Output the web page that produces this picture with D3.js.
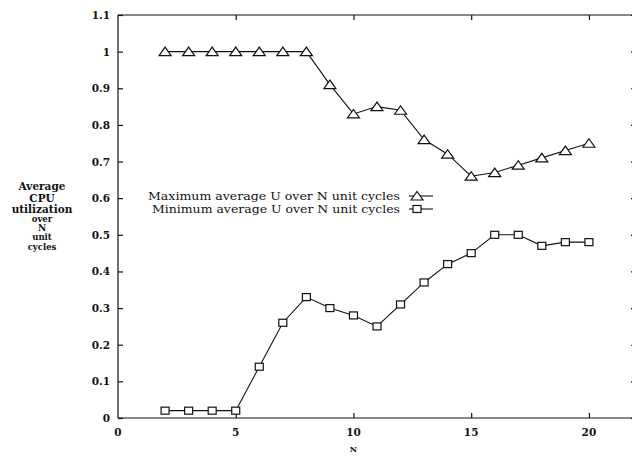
<!DOCTYPE html>
<html><head><meta charset="utf-8">
<script src="https://cdn.jsdelivr.net/npm/d3@7"></script>
<style>
html,body{margin:0;padding:0;background:#fff;}
svg{display:block;}
text{font-family:"DejaVu Serif","Liberation Serif",serif;fill:#111;}
</style></head>
<body>
<script>
const nValues = [2,3,4,5,6,7,8,9,10,11,12,13,14,15,16,17,18,19,20];
const maxAvgU = [1,1,1,1,1,1,1,0.91,0.83,0.85,0.84,0.76,0.72,0.66,0.67,0.69,0.71,0.73,0.75];
const minAvgU = [0.02,0.02,0.02,0.02,0.14,0.26,0.33,0.30,0.28,0.25,0.31,0.37,0.42,0.45,0.50,0.50,0.47,0.48,0.48];
const xTicks = [0,5,10,15,20];
const yTicks = [0,0.1,0.2,0.3,0.4,0.5,0.6,0.7,0.8,0.9,1,1.1];
const yTickLabels = ["0","0.1","0.2","0.3","0.4","0.5","0.6","0.7","0.8","0.9","1","1.1"];
const legendLabels = ["Maximum average U over N unit cycles","Minimum average U over N unit cycles"];
const yTitleLines = ["Average","CPU","utilization","over","N","unit","cycles"];

const W=632,H=456;
const svg=d3.select("body").append("svg").attr("width",W).attr("height",H);
const x=d3.scaleLinear().domain([0,22]).range([118,636]);
const y=d3.scaleLinear().domain([0,1.1]).range([418,15]);

const g=svg.append("g").attr("stroke","#111").attr("fill","none").attr("stroke-width",1.2);
g.append("line").attr("x1",x(0)).attr("x2",x(22)).attr("y1",y(0)).attr("y2",y(0));
g.append("line").attr("x1",x(0)).attr("x2",x(22)).attr("y1",y(1.1)).attr("y2",y(1.1));
g.append("line").attr("x1",x(0)).attr("x2",x(0)).attr("y1",y(0)).attr("y2",y(1.1));
g.append("line").attr("x1",x(22)).attr("x2",x(22)).attr("y1",y(0)).attr("y2",y(1.1));

const axL=svg.append("g").attr("transform",`translate(${x(0)},0)`)
  .call(d3.axisRight(y).tickValues(yTicks).tickFormat("").tickSize(5));
const axR=svg.append("g").attr("transform",`translate(${x(22)},0)`)
  .call(d3.axisLeft(y).tickValues(yTicks).tickFormat("").tickSize(5));
const axB=svg.append("g").attr("transform",`translate(0,${y(0)})`)
  .call(d3.axisTop(x).tickValues(xTicks.filter(d=>d>0)).tickFormat("").tickSize(5));
const axT=svg.append("g").attr("transform",`translate(0,${y(1.1)})`)
  .call(d3.axisBottom(x).tickValues(xTicks.filter(d=>d>0)).tickFormat("").tickSize(5));
[axL,axR,axB,axT].forEach(a=>{a.select(".domain").remove();a.selectAll("line").attr("stroke","#111").attr("stroke-width",1.2);});

svg.append("g").selectAll("text").data(yTicks).join("text")
  .attr("x",110).attr("y",d=>y(d)+4).attr("text-anchor","end")
  .attr("font-size",10.5).attr("font-weight","bold").text((d,i)=>yTickLabels[i]);
svg.append("g").selectAll("text").data(xTicks).join("text")
  .attr("x",d=>x(d)).attr("y",436).attr("text-anchor","middle")
  .attr("font-size",10.5).attr("font-weight","bold").text(d=>d);

svg.append("text").attr("x",x(10)).attr("y",452).attr("text-anchor","middle")
  .attr("font-size",8).attr("font-weight","bold").text("N");
const titleY=[190,202,213,222,231,240,250];
const titleSize=[10.5,10.5,10.5,8.5,9,8.5,8.5];
svg.append("g").selectAll("text").data(yTitleLines).join("text")
  .attr("x",42).attr("y",(d,i)=>titleY[i]).attr("text-anchor","middle")
  .attr("font-size",(d,i)=>titleSize[i]).attr("font-weight","bold").text(d=>d);

const line=d3.line().x((d,i)=>x(nValues[i])).y(d=>y(d));
svg.append("path").datum(maxAvgU).attr("d",line).attr("fill","none").attr("stroke","#111").attr("stroke-width",1.1);
svg.append("path").datum(minAvgU).attr("d",line).attr("fill","none").attr("stroke","#111").attr("stroke-width",1.1);

const tri=(cx,cy)=>`M${cx-6},${cy+4}L${cx},${cy-4.5}L${cx+6},${cy+4}Z`;
svg.append("g").selectAll("path").data(maxAvgU).join("path")
  .attr("d",(d,i)=>tri(x(nValues[i]),y(d)))
  .attr("fill","#fff").attr("stroke","#111").attr("stroke-width",1.2);
svg.append("g").selectAll("rect").data(minAvgU).join("rect")
  .attr("x",(d,i)=>x(nValues[i])-4).attr("y",d=>y(d)-3.5).attr("width",8).attr("height",7)
  .attr("fill","#fff").attr("stroke","#111").attr("stroke-width",1.2);

const legY=[196,209];
const legLen=[252,248];
svg.append("g").selectAll("text").data(legendLabels).join("text")
  .attr("x",(d,i)=>400-legLen[i]).attr("y",(d,i)=>legY[i]+4)
  .attr("font-size",10.5).attr("textLength",(d,i)=>legLen[i]).attr("lengthAdjust","spacingAndGlyphs").text(d=>d);
legY.forEach((ly,i)=>{
  svg.append("line").attr("x1",409).attr("x2",433).attr("y1",ly).attr("y2",ly).attr("stroke","#111").attr("stroke-width",1.1);
});
svg.append("path").attr("d",tri(417,legY[0])).attr("fill","#fff").attr("stroke","#111").attr("stroke-width",1.2);
svg.append("rect").attr("x",413).attr("y",legY[1]-3.5).attr("width",8).attr("height",7)
  .attr("fill","#fff").attr("stroke","#111").attr("stroke-width",1.2);
</script>
</body></html>
